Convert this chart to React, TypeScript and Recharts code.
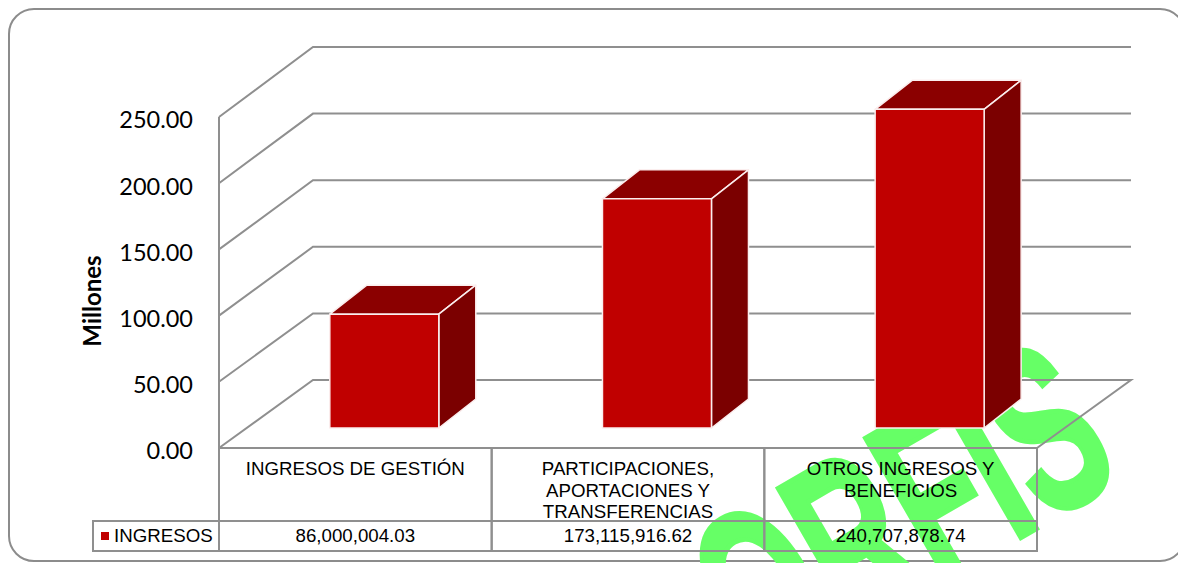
import { Bar, BarChart, CartesianGrid, XAxis, YAxis } from "recharts";

const categoryLines = [
	["INGRESOS DE GESTIÓN"],
	["PARTICIPACIONES,", "APORTACIONES Y", "TRANSFERENCIAS"],
	["OTROS INGRESOS Y", "BENEFICIOS"],
];
const ingresos = [86000004.03, 173115916.62, 240707878.74];
const yTicks = [0, 50, 100, 150, 200, 250];
const seriesName = "INGRESOS";

const chartData = categoryLines.map((lines, i) => ({
	name: lines.join(" "),
	lines,
	label: ingresos[i].toLocaleString("en-US", { minimumFractionDigits: 2 }),
	millones: ingresos[i] / 1000000,
}));

const GRID = "#8f8f8f";
const TABLE_FONT = "'Liberation Sans', Arial, sans-serif";
const WALL_DX = 94;
const WALL_DY = -68;
const WALL_SCALE = 333 / 331;
const BOX_DX = 37;
const BOX_DY = -29;
const FLOOR = 448;

function WallLine(props: any) {
	const { x1, x2, y1, key } = props;
	const bx = x1 + WALL_DX;
	const by = FLOOR + WALL_DY - (FLOOR - y1) * WALL_SCALE;
	let points = `${x1},${y1} ${bx},${by} ${x2 + WALL_DX},${by}`;
	if (Math.abs(y1 - FLOOR) < 1) {
		points += ` ${x2},${y1}`;
	}
	return <polyline key={key} points={points} fill="none" stroke={GRID} strokeWidth={2} />;
}

function Box(props: any) {
	const { width, height } = props;
	const x = props.x + 29;
	const y = props.y - 20;
	const b = y + height;
	const r = x + width;
	const edge = { stroke: "#fbeeee", strokeWidth: 1.5, strokeLinejoin: "round" as const };
	return (
		<g>
			<polygon
				points={`${x},${y} ${x + BOX_DX},${y + BOX_DY} ${r + BOX_DX},${y + BOX_DY} ${r},${y}`}
				fill="#8b0000"
				{...edge}
			/>
			<polygon
				points={`${r},${y} ${r + BOX_DX},${y + BOX_DY} ${r + BOX_DX},${b + BOX_DY} ${r},${b}`}
				fill="#7b0000"
				{...edge}
			/>
			<rect x={x} y={y} width={width} height={height} fill="#c00000" {...edge} />
		</g>
	);
}

function TableCell(props: any) {
	const { x, index, payload } = props;
	const row = chartData[index];
	const w = 818 / 3;
	const left = x - w / 2;
	const top = FLOOR;
	const cellBorder = { stroke: GRID, strokeWidth: 2, fill: "none" };
	return (
		<g fontFamily={TABLE_FONT} fontSize={18.7} fill="#000">
			<rect x={left} y={top} width={w} height={73} {...cellBorder} />
			<rect x={left} y={top + 73} width={w} height={30} {...cellBorder} />
			{row.lines.map((line: string, i: number) => (
				<text key={line} x={payload.coordinate} y={top + 27 + i * 21.5} textAnchor="middle">
					{line}
				</text>
			))}
			<text x={payload.coordinate} y={top + 94} textAnchor="middle">
				{row.label}
			</text>
			{index === 0 && (
				<g>
					<rect x={93} y={top + 73} width={left - 93} height={30} {...cellBorder} />
					<rect x={101} y={top + 84} width={8} height={8} fill="#c00000" />
					<text x={114} y={top + 94}>
						{seriesName}
					</text>
				</g>
			)}
		</g>
	);
}

function AxisTitle() {
	return (
		<text
			transform="rotate(-90 101 301)"
			x={101}
			y={301}
			textAnchor="middle"
			fill="#000"
			fontFamily="Lato"
			fontWeight={700}
			fontSize={24}
		>
			Millones
		</text>
	);
}

export default function App() {
	return (
		<div
			style={{
				position: "absolute",
				left: 0,
				top: 0,
				width: 1178,
				height: 563,
				overflow: "hidden",
				background: "#fff",
			}}
		>
			<div
				style={{
					position: "absolute",
					left: 8,
					top: 8,
					width: 1174,
					height: 550,
					border: "2px solid #8c8c8c",
					borderRadius: 26,
				}}
			/>
			{/* marca de agua, va detras de la grafica */}
			<svg width={1178} height={563} style={{ position: "absolute", left: 0, top: 0 }}>
				<text
					transform="translate(1126 477) rotate(-30) scale(0.585 1)"
					textAnchor="end"
					fontFamily={TABLE_FONT}
					fontWeight={700}
					fontSize={238}
					fill="#66ff66"
					stroke="#66ff66"
					strokeWidth={5}
				>
					ORFIS
				</text>
			</svg>
			<div style={{ position: "absolute", left: 0, top: 0 }}>
				<BarChart
					width={1178}
					height={563}
					data={chartData}
					barCategoryGap="30%"
					margin={{ top: 117, right: 141, bottom: 0, left: 89 }}
				>
					<CartesianGrid vertical={false} horizontal={WallLine} />
					<XAxis
						dataKey="name"
						interval={0}
						height={115}
						tickLine={false}
						tickSize={0}
						axisLine={{ stroke: GRID, strokeWidth: 2 }}
						tick={TableCell}
					/>
					<YAxis
						width={130}
						domain={[0, 250]}
						ticks={yTicks}
						tickLine={false}
						tickSize={0}
						tickMargin={26}
						axisLine={{ stroke: GRID, strokeWidth: 2 }}
						tickFormatter={(v: number) => v.toFixed(2)}
						tick={{ fill: "#000", fontFamily: "Lato", fontSize: 23.5, dy: 3 }}
						label={AxisTitle}
					/>
					<Bar dataKey="millones" name={seriesName} shape={Box} isAnimationActive={false} />
				</BarChart>
			</div>
		</div>
	);
}
